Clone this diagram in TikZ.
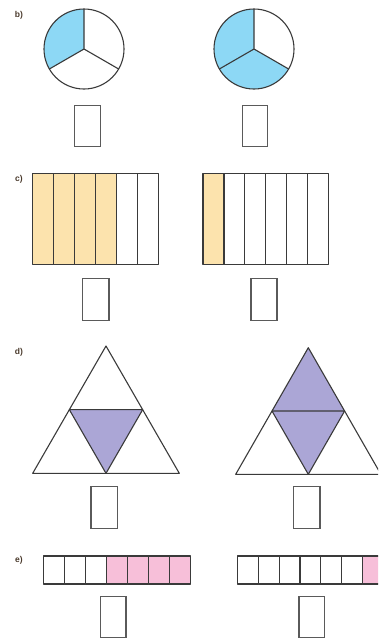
\documentclass[tikz,border=0pt]{standalone}
\usepackage{fontspec}
\setsansfont{Liberation Sans}
\definecolor{lblcol}{HTML}{4A3A2C}
\definecolor{linecol}{HTML}{3A3A3A}
\definecolor{boxcol}{HTML}{5A5A5A}
\definecolor{bluefill}{HTML}{8DD8F5}
\definecolor{orangefill}{HTML}{FCE3AD}
\definecolor{purplefill}{HTML}{ABA6D6}
\definecolor{pinkfill}{HTML}{F7BFD9}
\tikzset{
  partlabel/.style={font=\sffamily\bfseries\fontsize{8.5}{10}\selectfont, text=lblcol, inner sep=0pt},
  outline/.style={draw=linecol, line width=1.1pt, line join=round},
  ansbox/.style={draw=boxcol, line width=1.3pt, fill=white, inner sep=0pt},
}
\begin{document}
\begin{tikzpicture}[x=1pt,y=-1pt]
\useasboundingbox (0,0) rectangle (378,638);
\clip (0,0) rectangle (378,638);

% ---------- b) ----------  (y axis points down: 270 = up)
\node[partlabel] (lb) at (19,15) {b)};
\begin{scope}[shift={(84,49)}]
  \fill[bluefill] (0,0) -- (150:40) arc[start angle=150,end angle=270,radius=40] -- cycle;
  \draw[outline] (0,0) circle[radius=40];
  \draw[outline] (270:40) -- (0,0) -- (150:40) (0,0) -- (30:40);
\end{scope}
\begin{scope}[shift={(254,49)}]
  \fill[bluefill] (0,0) -- (30:40) arc[start angle=30,end angle=270,radius=40] -- cycle;
  \draw[outline] (0,0) circle[radius=40];
  \draw[outline] (270:40) -- (0,0) -- (150:40) (0,0) -- (30:40);
\end{scope}
\draw[ansbox] (74.3,105.3) rectangle (100.3,146.7);
\draw[ansbox] (242.3,105.3) rectangle (267.7,146.7);

% ---------- c) ----------
\node[partlabel] (lc) at (19,179) {c)};
\foreach \i in {0,...,5}{
  \ifnum\i<4
    \filldraw[outline,fill=orangefill] ({32.7+\i*20.93},173.3) rectangle ({32.7+(\i+1)*20.93},264.3);
  \else
    \draw[outline] ({32.7+\i*20.93},173.3) rectangle ({32.7+(\i+1)*20.93},264.3);
  \fi
}
\foreach \i in {0,...,5}{
  \ifnum\i<1
    \filldraw[outline,fill=orangefill] ({203+\i*20.95},173.3) rectangle ({203+(\i+1)*20.95},264.3);
  \else
    \draw[outline] ({203+\i*20.95},173.3) rectangle ({203+(\i+1)*20.95},264.3);
  \fi
}
\draw[ansbox] (82.7,278.3) rectangle (109,320.3);
\draw[ansbox] (251,278.3) rectangle (277,320.3);

% ---------- d) ----------
\node[partlabel] (ld) at (19,352) {d)};
% triangle 1
\fill[purplefill] (69.35,409.65) -- (142.65,409.65) -- (106,473.3) -- cycle;
\draw[outline] (106,346) -- (32.7,473.3) -- (179.3,473.3) -- cycle;
\draw[outline] (69.35,409.65) -- (142.65,409.65) -- (106,473.3) -- cycle;
% triangle 2
\fill[purplefill] (308.3,347.7) -- (272,411) -- (308.3,474.3) -- (344.6,411) -- cycle;
\draw[outline] (308.3,347.7) -- (235.7,474.3) -- (380.9,474.3) -- cycle;
\draw[outline] (272,411) -- (344.6,411) -- (308.3,474.3) -- cycle;
\draw[ansbox] (91,486.7) rectangle (117.3,528.3);
\draw[ansbox] (293.7,486.7) rectangle (320,528.3);

% ---------- e) ----------
\node[partlabel] (le) at (19,560) {e)};
\foreach \i in {0,...,6}{
  \ifnum\i<3
    \draw[outline] ({43.7+\i*21},556) rectangle ({43.7+(\i+1)*21},584);
  \else
    \filldraw[outline,fill=pinkfill] ({43.7+\i*21},556) rectangle ({43.7+(\i+1)*21},584);
  \fi
}
\foreach \i in {0,...,6}{
  \ifnum\i<6
    \draw[outline] ({237.3+\i*20.9},556) rectangle ({237.3+(\i+1)*20.9},584);
  \else
    \filldraw[outline,fill=pinkfill] ({237.3+\i*20.9},556) rectangle ({237.3+(\i+1)*20.9},584);
  \fi
}
\draw[ansbox] (100.7,596.7) rectangle (126,637.2);
\draw[ansbox] (299,596.7) rectangle (324.7,637.2);
\end{tikzpicture}
\end{document}
